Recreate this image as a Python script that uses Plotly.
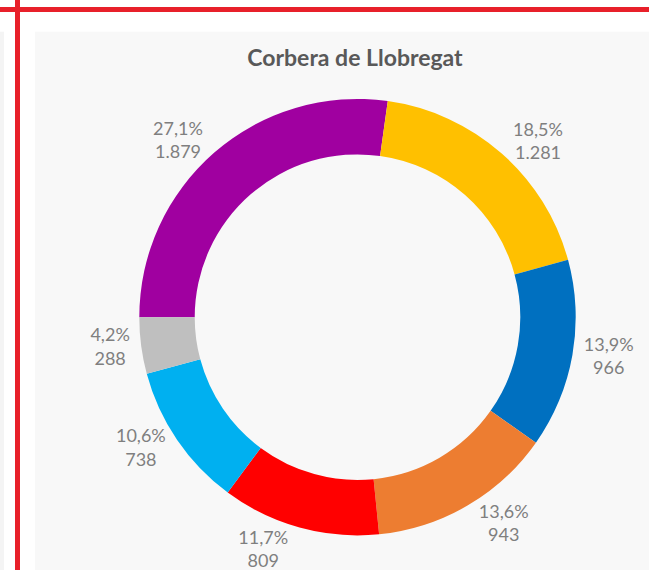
import plotly.graph_objects as go

# Vote share by candidacy, Corbera de Llobregat (clockwise from 9 o'clock)
categories = ["Candidatura 1", "Candidatura 2", "Candidatura 3", "Candidatura 4",
              "Candidatura 5", "Candidatura 6", "Candidatura 7"]
votes = [1879, 1281, 966, 943, 809, 738, 288]
pct_share = [27.1, 18.5, 13.9, 13.6, 11.7, 10.6, 4.2]
slice_colors = ["#A000A0", "#FFC000", "#0070C0", "#ED7D31", "#FF0000", "#00B0F0", "#BFBFBF"]

W, H = 649, 576
CX, CY, HALF = 357.5, 320.5, 220.5  # donut centre and outer radius in pixels

fig = go.Figure(go.Pie(
    labels=categories,
    values=votes,
    customdata=pct_share,
    texttemplate="%{customdata:.1f}%<br>%{value:,.0f}",
    textposition="outside",
    textfont=dict(family="Lato", size=18, color="#7F7F7F"),
    hole=0.746,
    sort=False,
    direction="clockwise",
    rotation=-90,
    marker=dict(colors=slice_colors, line=dict(width=0)),
    domain=dict(x=[(CX - HALF) / W, (CX + HALF) / W],
                y=[1 - (CY + HALF) / H, 1 - (CY - HALF) / H]),
    showlegend=False,
    hoverinfo="label+value+percent",
))

fig.update_layout(
    width=W, height=H,
    margin=dict(l=0, r=0, t=0, b=0),
    paper_bgcolor="white",
    separators=",.",
    title=dict(text="<b>Corbera de Llobregat</b>", x=355 / W, y=1 - 58 / H,
               xanchor="center", yanchor="middle",
               font=dict(family="Lato", size=23, color="#595959")),
    shapes=[
        # chart panel
        dict(type="rect", xref="paper", yref="paper", x0=35 / W, x1=1, y0=0, y1=1 - 32 / H,
             fillcolor="#F8F8F8", line=dict(width=0), layer="below"),
        dict(type="rect", xref="paper", yref="paper", x0=0, x1=4 / W, y0=0, y1=1 - 32 / H,
             fillcolor="#F4F4F4", line=dict(width=0), layer="below"),
        # red frame lines
        dict(type="line", xref="paper", yref="paper", x0=0, x1=1, y0=1 - 9.5 / H, y1=1 - 9.5 / H,
             line=dict(color="#E8202A", width=5)),
        dict(type="line", xref="paper", yref="paper", x0=17.5 / W, x1=17.5 / W, y0=0, y1=1,
             line=dict(color="#E8202A", width=5)),
    ],
)

fig.write_html("out.html")
